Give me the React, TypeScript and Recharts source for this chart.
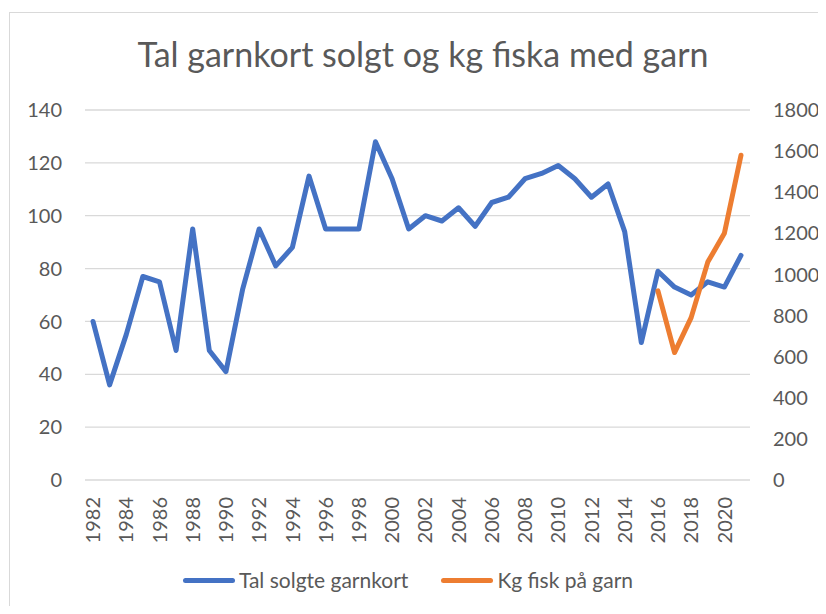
import { CartesianGrid, Legend, Line, LineChart, XAxis, YAxis } from 'recharts';

const years = [
  1982, 1983, 1984, 1985, 1986, 1987, 1988, 1989, 1990, 1991, 1992, 1993, 1994, 1995, 1996, 1997,
  1998, 1999, 2000, 2001, 2002, 2003, 2004, 2005, 2006, 2007, 2008, 2009, 2010, 2011, 2012, 2013,
  2014, 2015, 2016, 2017, 2018, 2019, 2020, 2021,
];

// Tal solgte garnkort (left axis)
const cardsSold = [
  60, 36, 55, 77, 75, 49, 95, 49, 41, 72, 95, 81, 88, 115, 95, 95,
  95, 128, 114, 95, 100, 98, 103, 96, 105, 107, 114, 116, 119, 114, 107, 112,
  94, 52, 79, 73, 70, 75, 73, 85,
];

// Kg fisk på garn (right axis), only from 2016
const kgFish: (number | null)[] = [
  null, null, null, null, null, null, null, null, null, null, null, null, null, null, null, null,
  null, null, null, null, null, null, null, null, null, null, null, null, null, null, null, null,
  null, null, 920, 620, 790, 1060, 1200, 1580,
];

const leftTicks = [0, 20, 40, 60, 80, 100, 120, 140];
const rightTicks = [0, 200, 400, 600, 800, 1000, 1200, 1400, 1600, 1800];

const seriesNames = ['Tal solgte garnkort', 'Kg fisk på garn'];
const colors = ['#4472C4', '#ED7D31'];

const data = years.map((year, i) => ({ year, cards: cardsSold[i], kg: kgFish[i] }));

const FONT = 'Lato, Carlito, Calibri, sans-serif';
const TEXT = '#595959';

function YearTick(props: any) {
  const { x, y, payload } = props;
  return (
    <text
      x={x}
      y={y}
      dy="0.36em"
      textAnchor="end"
      transform={`rotate(-90 ${x} ${y})`}
      fill={TEXT}
      fontSize={20}
      fontFamily={FONT}
    >
      {payload.value}
    </text>
  );
}

function ChartLegend() {
  return (
    <div
      style={{
        display: 'flex',
        justifyContent: 'center',
        gap: 33,
        fontFamily: FONT,
        fontSize: 21,
        lineHeight: '24px',
        color: TEXT,
        paddingRight: 18,
      }}
    >
      {seriesNames.map((name, i) => (
        <div key={name} style={{ display: 'flex', alignItems: 'center' }}>
          <span
            style={{
              display: 'inline-block',
              width: 52,
              height: 5,
              borderRadius: 3,
              background: colors[i],
              marginRight: 4,
            }}
          />
          <span>{name}</span>
        </div>
      ))}
    </div>
  );
}

export default function App() {
  return (
    <div style={{ position: 'relative', width: 818, height: 598, background: '#fff' }}>
      <div
        style={{
          position: 'absolute',
          left: 1,
          top: 4,
          right: 0,
          bottom: 0,
          borderTop: '1px solid #d9d9d9',
          borderLeft: '1px solid #d9d9d9',
        }}
      />
      <div
        style={{
          position: 'absolute',
          top: 25,
          left: 0,
          width: 830,
          textAlign: 'center',
          fontFamily: FONT,
          fontSize: 34,
          color: TEXT,
          whiteSpace: 'nowrap',
        }}
      >
        Tal garnkort solgt og kg fiska med garn
      </div>
      <LineChart
        width={818}
        height={598}
        data={data}
        margin={{ top: 102, right: 0, bottom: 0, left: 0 }}
        style={{ position: 'absolute', top: 0, left: 0 }}
      >
        <CartesianGrid vertical={false} stroke="#d9d9d9" strokeWidth={1.3} yAxisId="left" />
        <XAxis
          dataKey="year"
          interval={1}
          axisLine={false}
          tickLine={false}
          tickSize={0}
          tickMargin={17}
          height={102}
          padding={{ left: 8, right: 9 }}
          tick={<YearTick />}
        />
        <YAxis
          yAxisId="left"
          domain={[0, 140]}
          ticks={leftTicks}
          width={77}
          axisLine={false}
          tickLine={false}
          tickSize={0}
          tickMargin={23}
          tick={{ fill: TEXT, fontSize: 20, fontFamily: FONT }}
        />
        <YAxis
          yAxisId="right"
          orientation="right"
          domain={[0, 1800]}
          ticks={rightTicks}
          width={76}
          axisLine={false}
          tickLine={false}
          tickSize={0}
          tickMargin={23}
          tick={{ fill: TEXT, fontSize: 20, fontFamily: FONT }}
        />
        <Legend
          verticalAlign="bottom"
          content={<ChartLegend />}
          wrapperStyle={{ top: 560, left: 0, width: 818, bottom: 'auto' }}
        />
        <Line
          yAxisId="left"
          type="linear"
          dataKey="cards"
          name={seriesNames[0]}
          stroke={colors[0]}
          strokeWidth={5}
          strokeLinejoin="round"
          strokeLinecap="round"
          dot={false}
          activeDot={false}
          isAnimationActive={false}
        />
        <Line
          yAxisId="right"
          type="linear"
          dataKey="kg"
          name={seriesNames[1]}
          stroke={colors[1]}
          strokeWidth={5}
          strokeLinejoin="round"
          strokeLinecap="round"
          dot={false}
          activeDot={false}
          isAnimationActive={false}
          connectNulls={false}
        />
      </LineChart>
    </div>
  );
}
